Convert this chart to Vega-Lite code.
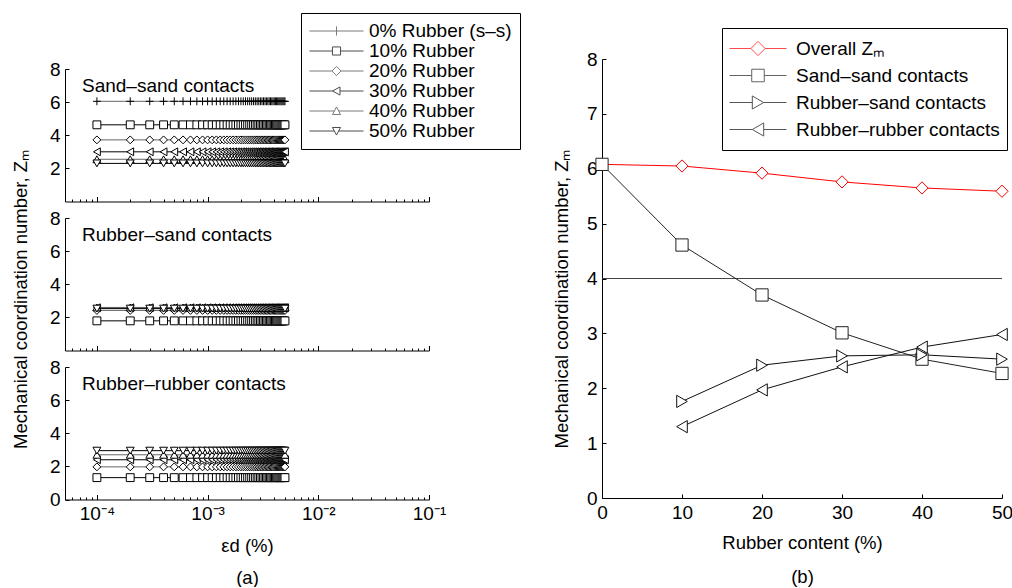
{
"$schema":"https://vega.github.io/schema/vega-lite/v6.json",
"padding":{"left":10,"top":12,"right":0,"bottom":0},
"config":{"font":"Liberation Sans","view":{"stroke":null},
"axis":{"grid":false,"domainColor":"#000","tickColor":"#000","labelColor":"#000","titleColor":"#000","labelFontSize":19,"titleFontSize":18.5,"titleFontWeight":"normal","labelFont":"Liberation Sans","titleFont":"Liberation Sans","domainWidth":1,"tickWidth":1,"labelOverlap":false,"labelFlush":false},
"legend":{"labelFont":"Liberation Sans","labelFontSize":19,"labelColor":"#000","labelLimit":400}},
"datasets":{
"ss":[
{"x":0.0001,"s":0,"y":6.05},{"x":0.0002,"s":0,"y":6.05},{"x":0.0003,"s":0,"y":6.05},{"x":0.0004,"s":0,"y":6.05},{"x":0.0005,"s":0,"y":6.05},{"x":0.0006,"s":0,"y":6.05},{"x":0.0007,"s":0,"y":6.05},{"x":0.0008,"s":0,"y":6.05},{"x":0.0009,"s":0,"y":6.05},{"x":0.001,"s":0,"y":6.05},
{"x":0.0011,"s":0,"y":6.05},{"x":0.0012,"s":0,"y":6.05},{"x":0.0013,"s":0,"y":6.05},{"x":0.0014,"s":0,"y":6.05},{"x":0.0015,"s":0,"y":6.05},{"x":0.0016,"s":0,"y":6.05},{"x":0.0017,"s":0,"y":6.05},{"x":0.0018,"s":0,"y":6.05},{"x":0.0019,"s":0,"y":6.05},{"x":0.002,"s":0,"y":6.05},
{"x":0.0021,"s":0,"y":6.05},{"x":0.0022,"s":0,"y":6.05},{"x":0.0023,"s":0,"y":6.05},{"x":0.0024,"s":0,"y":6.05},{"x":0.0025,"s":0,"y":6.05},{"x":0.0026,"s":0,"y":6.05},{"x":0.0027,"s":0,"y":6.05},{"x":0.0028,"s":0,"y":6.05},{"x":0.0029,"s":0,"y":6.05},{"x":0.003,"s":0,"y":6.05},
{"x":0.0031,"s":0,"y":6.05},{"x":0.0032,"s":0,"y":6.05},{"x":0.0033,"s":0,"y":6.05},{"x":0.0034,"s":0,"y":6.05},{"x":0.0035,"s":0,"y":6.05},{"x":0.0036,"s":0,"y":6.05},{"x":0.0037,"s":0,"y":6.05},{"x":0.0038,"s":0,"y":6.05},{"x":0.0039,"s":0,"y":6.05},{"x":0.004,"s":0,"y":6.05},
{"x":0.0041,"s":0,"y":6.05},{"x":0.0042,"s":0,"y":6.05},{"x":0.0043,"s":0,"y":6.05},{"x":0.0044,"s":0,"y":6.05},{"x":0.0045,"s":0,"y":6.05},{"x":0.0046,"s":0,"y":6.05},{"x":0.0047,"s":0,"y":6.05},{"x":0.0048,"s":0,"y":6.05},{"x":0.0049,"s":0,"y":6.05},{"x":0.005,"s":0,"y":6.05},
{"x":0.0001,"s":10,"y":4.63},{"x":0.0002,"s":10,"y":4.63},{"x":0.0003,"s":10,"y":4.63},{"x":0.0004,"s":10,"y":4.63},{"x":0.0005,"s":10,"y":4.63},{"x":0.0006,"s":10,"y":4.63},{"x":0.0007,"s":10,"y":4.63},{"x":0.0008,"s":10,"y":4.63},{"x":0.0009,"s":10,"y":4.63},{"x":0.001,"s":10,"y":4.63},
{"x":0.0011,"s":10,"y":4.63},{"x":0.0012,"s":10,"y":4.63},{"x":0.0013,"s":10,"y":4.63},{"x":0.0014,"s":10,"y":4.63},{"x":0.0015,"s":10,"y":4.63},{"x":0.0016,"s":10,"y":4.63},{"x":0.0017,"s":10,"y":4.63},{"x":0.0018,"s":10,"y":4.63},{"x":0.0019,"s":10,"y":4.63},{"x":0.002,"s":10,"y":4.63},
{"x":0.0021,"s":10,"y":4.63},{"x":0.0022,"s":10,"y":4.63},{"x":0.0023,"s":10,"y":4.63},{"x":0.0024,"s":10,"y":4.63},{"x":0.0025,"s":10,"y":4.63},{"x":0.0026,"s":10,"y":4.63},{"x":0.0027,"s":10,"y":4.63},{"x":0.0028,"s":10,"y":4.63},{"x":0.0029,"s":10,"y":4.63},{"x":0.003,"s":10,"y":4.63},
{"x":0.0031,"s":10,"y":4.63},{"x":0.0032,"s":10,"y":4.63},{"x":0.0033,"s":10,"y":4.63},{"x":0.0034,"s":10,"y":4.63},{"x":0.0035,"s":10,"y":4.63},{"x":0.0036,"s":10,"y":4.63},{"x":0.0037,"s":10,"y":4.63},{"x":0.0038,"s":10,"y":4.63},{"x":0.0039,"s":10,"y":4.63},{"x":0.004,"s":10,"y":4.63},
{"x":0.0041,"s":10,"y":4.63},{"x":0.0042,"s":10,"y":4.63},{"x":0.0043,"s":10,"y":4.63},{"x":0.0044,"s":10,"y":4.63},{"x":0.0045,"s":10,"y":4.63},{"x":0.0046,"s":10,"y":4.63},{"x":0.0047,"s":10,"y":4.63},{"x":0.0048,"s":10,"y":4.63},{"x":0.0049,"s":10,"y":4.63},{"x":0.005,"s":10,"y":4.63},
{"x":0.0001,"s":20,"y":3.72},{"x":0.0002,"s":20,"y":3.72},{"x":0.0003,"s":20,"y":3.72},{"x":0.0004,"s":20,"y":3.72},{"x":0.0005,"s":20,"y":3.72},{"x":0.0006,"s":20,"y":3.72},{"x":0.0007,"s":20,"y":3.72},{"x":0.0008,"s":20,"y":3.72},{"x":0.0009,"s":20,"y":3.72},{"x":0.001,"s":20,"y":3.72},
{"x":0.0011,"s":20,"y":3.72},{"x":0.0012,"s":20,"y":3.72},{"x":0.0013,"s":20,"y":3.72},{"x":0.0014,"s":20,"y":3.72},{"x":0.0015,"s":20,"y":3.72},{"x":0.0016,"s":20,"y":3.72},{"x":0.0017,"s":20,"y":3.72},{"x":0.0018,"s":20,"y":3.72},{"x":0.0019,"s":20,"y":3.72},{"x":0.002,"s":20,"y":3.72},
{"x":0.0021,"s":20,"y":3.72},{"x":0.0022,"s":20,"y":3.72},{"x":0.0023,"s":20,"y":3.72},{"x":0.0024,"s":20,"y":3.72},{"x":0.0025,"s":20,"y":3.72},{"x":0.0026,"s":20,"y":3.72},{"x":0.0027,"s":20,"y":3.72},{"x":0.0028,"s":20,"y":3.72},{"x":0.0029,"s":20,"y":3.72},{"x":0.003,"s":20,"y":3.72},
{"x":0.0031,"s":20,"y":3.72},{"x":0.0032,"s":20,"y":3.72},{"x":0.0033,"s":20,"y":3.72},{"x":0.0034,"s":20,"y":3.72},{"x":0.0035,"s":20,"y":3.72},{"x":0.0036,"s":20,"y":3.72},{"x":0.0037,"s":20,"y":3.72},{"x":0.0038,"s":20,"y":3.72},{"x":0.0039,"s":20,"y":3.72},{"x":0.004,"s":20,"y":3.72},
{"x":0.0041,"s":20,"y":3.72},{"x":0.0042,"s":20,"y":3.72},{"x":0.0043,"s":20,"y":3.72},{"x":0.0044,"s":20,"y":3.72},{"x":0.0045,"s":20,"y":3.72},{"x":0.0046,"s":20,"y":3.72},{"x":0.0047,"s":20,"y":3.72},{"x":0.0048,"s":20,"y":3.72},{"x":0.0049,"s":20,"y":3.72},{"x":0.005,"s":20,"y":3.72},
{"x":0.0001,"s":30,"y":3.0},{"x":0.0002,"s":30,"y":3.0},{"x":0.0003,"s":30,"y":3.0},{"x":0.0004,"s":30,"y":3.0},{"x":0.0005,"s":30,"y":3.0},{"x":0.0006,"s":30,"y":3.0},{"x":0.0007,"s":30,"y":3.0},{"x":0.0008,"s":30,"y":3.0},{"x":0.0009,"s":30,"y":3.0},{"x":0.001,"s":30,"y":3.0},
{"x":0.0011,"s":30,"y":3.0},{"x":0.0012,"s":30,"y":3.0},{"x":0.0013,"s":30,"y":3.0},{"x":0.0014,"s":30,"y":3.0},{"x":0.0015,"s":30,"y":3.0},{"x":0.0016,"s":30,"y":3.0},{"x":0.0017,"s":30,"y":3.0},{"x":0.0018,"s":30,"y":3.0},{"x":0.0019,"s":30,"y":3.0},{"x":0.002,"s":30,"y":3.0},
{"x":0.0021,"s":30,"y":3.0},{"x":0.0022,"s":30,"y":3.0},{"x":0.0023,"s":30,"y":3.0},{"x":0.0024,"s":30,"y":3.0},{"x":0.0025,"s":30,"y":3.0},{"x":0.0026,"s":30,"y":3.0},{"x":0.0027,"s":30,"y":3.0},{"x":0.0028,"s":30,"y":3.0},{"x":0.0029,"s":30,"y":3.0},{"x":0.003,"s":30,"y":3.0},
{"x":0.0031,"s":30,"y":3.0},{"x":0.0032,"s":30,"y":3.0},{"x":0.0033,"s":30,"y":3.0},{"x":0.0034,"s":30,"y":3.0},{"x":0.0035,"s":30,"y":3.0},{"x":0.0036,"s":30,"y":3.0},{"x":0.0037,"s":30,"y":3.0},{"x":0.0038,"s":30,"y":3.0},{"x":0.0039,"s":30,"y":3.0},{"x":0.004,"s":30,"y":3.0},
{"x":0.0041,"s":30,"y":3.0},{"x":0.0042,"s":30,"y":3.0},{"x":0.0043,"s":30,"y":3.0},{"x":0.0044,"s":30,"y":3.0},{"x":0.0045,"s":30,"y":3.0},{"x":0.0046,"s":30,"y":3.0},{"x":0.0047,"s":30,"y":3.0},{"x":0.0048,"s":30,"y":3.0},{"x":0.0049,"s":30,"y":3.0},{"x":0.005,"s":30,"y":3.0},
{"x":0.0001,"s":40,"y":2.55},{"x":0.0002,"s":40,"y":2.55},{"x":0.0003,"s":40,"y":2.55},{"x":0.0004,"s":40,"y":2.55},{"x":0.0005,"s":40,"y":2.55},{"x":0.0006,"s":40,"y":2.55},{"x":0.0007,"s":40,"y":2.55},{"x":0.0008,"s":40,"y":2.55},{"x":0.0009,"s":40,"y":2.55},{"x":0.001,"s":40,"y":2.55},
{"x":0.0011,"s":40,"y":2.55},{"x":0.0012,"s":40,"y":2.55},{"x":0.0013,"s":40,"y":2.55},{"x":0.0014,"s":40,"y":2.55},{"x":0.0015,"s":40,"y":2.55},{"x":0.0016,"s":40,"y":2.55},{"x":0.0017,"s":40,"y":2.55},{"x":0.0018,"s":40,"y":2.55},{"x":0.0019,"s":40,"y":2.55},{"x":0.002,"s":40,"y":2.55},
{"x":0.0021,"s":40,"y":2.55},{"x":0.0022,"s":40,"y":2.55},{"x":0.0023,"s":40,"y":2.55},{"x":0.0024,"s":40,"y":2.55},{"x":0.0025,"s":40,"y":2.55},{"x":0.0026,"s":40,"y":2.55},{"x":0.0027,"s":40,"y":2.55},{"x":0.0028,"s":40,"y":2.55},{"x":0.0029,"s":40,"y":2.55},{"x":0.003,"s":40,"y":2.55},
{"x":0.0031,"s":40,"y":2.55},{"x":0.0032,"s":40,"y":2.55},{"x":0.0033,"s":40,"y":2.55},{"x":0.0034,"s":40,"y":2.55},{"x":0.0035,"s":40,"y":2.55},{"x":0.0036,"s":40,"y":2.55},{"x":0.0037,"s":40,"y":2.55},{"x":0.0038,"s":40,"y":2.55},{"x":0.0039,"s":40,"y":2.55},{"x":0.004,"s":40,"y":2.55},
{"x":0.0041,"s":40,"y":2.55},{"x":0.0042,"s":40,"y":2.55},{"x":0.0043,"s":40,"y":2.55},{"x":0.0044,"s":40,"y":2.55},{"x":0.0045,"s":40,"y":2.55},{"x":0.0046,"s":40,"y":2.55},{"x":0.0047,"s":40,"y":2.55},{"x":0.0048,"s":40,"y":2.55},{"x":0.0049,"s":40,"y":2.55},{"x":0.005,"s":40,"y":2.55},
{"x":0.0001,"s":50,"y":2.3},{"x":0.0002,"s":50,"y":2.3},{"x":0.0003,"s":50,"y":2.3},{"x":0.0004,"s":50,"y":2.3},{"x":0.0005,"s":50,"y":2.3},{"x":0.0006,"s":50,"y":2.3},{"x":0.0007,"s":50,"y":2.3},{"x":0.0008,"s":50,"y":2.3},{"x":0.0009,"s":50,"y":2.3},{"x":0.001,"s":50,"y":2.3},
{"x":0.0011,"s":50,"y":2.3},{"x":0.0012,"s":50,"y":2.3},{"x":0.0013,"s":50,"y":2.3},{"x":0.0014,"s":50,"y":2.3},{"x":0.0015,"s":50,"y":2.3},{"x":0.0016,"s":50,"y":2.3},{"x":0.0017,"s":50,"y":2.3},{"x":0.0018,"s":50,"y":2.3},{"x":0.0019,"s":50,"y":2.3},{"x":0.002,"s":50,"y":2.3},
{"x":0.0021,"s":50,"y":2.3},{"x":0.0022,"s":50,"y":2.3},{"x":0.0023,"s":50,"y":2.3},{"x":0.0024,"s":50,"y":2.3},{"x":0.0025,"s":50,"y":2.3},{"x":0.0026,"s":50,"y":2.3},{"x":0.0027,"s":50,"y":2.3},{"x":0.0028,"s":50,"y":2.3},{"x":0.0029,"s":50,"y":2.3},{"x":0.003,"s":50,"y":2.3},
{"x":0.0031,"s":50,"y":2.3},{"x":0.0032,"s":50,"y":2.3},{"x":0.0033,"s":50,"y":2.3},{"x":0.0034,"s":50,"y":2.3},{"x":0.0035,"s":50,"y":2.3},{"x":0.0036,"s":50,"y":2.3},{"x":0.0037,"s":50,"y":2.3},{"x":0.0038,"s":50,"y":2.3},{"x":0.0039,"s":50,"y":2.3},{"x":0.004,"s":50,"y":2.3},
{"x":0.0041,"s":50,"y":2.3},{"x":0.0042,"s":50,"y":2.3},{"x":0.0043,"s":50,"y":2.3},{"x":0.0044,"s":50,"y":2.3},{"x":0.0045,"s":50,"y":2.3},{"x":0.0046,"s":50,"y":2.3},{"x":0.0047,"s":50,"y":2.3},{"x":0.0048,"s":50,"y":2.3},{"x":0.0049,"s":50,"y":2.3},{"x":0.005,"s":50,"y":2.3}
],
"rs":[
{"x":0.0001,"s":10,"y":1.79},{"x":0.0002,"s":10,"y":1.79},{"x":0.0003,"s":10,"y":1.79},{"x":0.0004,"s":10,"y":1.79},{"x":0.0005,"s":10,"y":1.79},{"x":0.0006,"s":10,"y":1.79},{"x":0.0007,"s":10,"y":1.79},{"x":0.0008,"s":10,"y":1.79},{"x":0.0009,"s":10,"y":1.79},{"x":0.001,"s":10,"y":1.79},
{"x":0.0011,"s":10,"y":1.79},{"x":0.0012,"s":10,"y":1.79},{"x":0.0013,"s":10,"y":1.79},{"x":0.0014,"s":10,"y":1.79},{"x":0.0015,"s":10,"y":1.79},{"x":0.0016,"s":10,"y":1.79},{"x":0.0017,"s":10,"y":1.79},{"x":0.0018,"s":10,"y":1.79},{"x":0.0019,"s":10,"y":1.79},{"x":0.002,"s":10,"y":1.79},
{"x":0.0021,"s":10,"y":1.79},{"x":0.0022,"s":10,"y":1.79},{"x":0.0023,"s":10,"y":1.79},{"x":0.0024,"s":10,"y":1.79},{"x":0.0025,"s":10,"y":1.79},{"x":0.0026,"s":10,"y":1.79},{"x":0.0027,"s":10,"y":1.79},{"x":0.0028,"s":10,"y":1.79},{"x":0.0029,"s":10,"y":1.79},{"x":0.003,"s":10,"y":1.79},
{"x":0.0031,"s":10,"y":1.79},{"x":0.0032,"s":10,"y":1.79},{"x":0.0033,"s":10,"y":1.79},{"x":0.0034,"s":10,"y":1.79},{"x":0.0035,"s":10,"y":1.79},{"x":0.0036,"s":10,"y":1.79},{"x":0.0037,"s":10,"y":1.79},{"x":0.0038,"s":10,"y":1.79},{"x":0.0039,"s":10,"y":1.79},{"x":0.004,"s":10,"y":1.79},
{"x":0.0041,"s":10,"y":1.79},{"x":0.0042,"s":10,"y":1.79},{"x":0.0043,"s":10,"y":1.79},{"x":0.0044,"s":10,"y":1.79},{"x":0.0045,"s":10,"y":1.79},{"x":0.0046,"s":10,"y":1.79},{"x":0.0047,"s":10,"y":1.79},{"x":0.0048,"s":10,"y":1.79},{"x":0.0049,"s":10,"y":1.79},{"x":0.005,"s":10,"y":1.79},
{"x":0.0001,"s":20,"y":2.42},{"x":0.0002,"s":20,"y":2.42},{"x":0.0003,"s":20,"y":2.42},{"x":0.0004,"s":20,"y":2.42},{"x":0.0005,"s":20,"y":2.42},{"x":0.0006,"s":20,"y":2.42},{"x":0.0007,"s":20,"y":2.42},{"x":0.0008,"s":20,"y":2.42},{"x":0.0009,"s":20,"y":2.42},{"x":0.001,"s":20,"y":2.42},
{"x":0.0011,"s":20,"y":2.42},{"x":0.0012,"s":20,"y":2.42},{"x":0.0013,"s":20,"y":2.42},{"x":0.0014,"s":20,"y":2.42},{"x":0.0015,"s":20,"y":2.42},{"x":0.0016,"s":20,"y":2.42},{"x":0.0017,"s":20,"y":2.42},{"x":0.0018,"s":20,"y":2.42},{"x":0.0019,"s":20,"y":2.42},{"x":0.002,"s":20,"y":2.42},
{"x":0.0021,"s":20,"y":2.42},{"x":0.0022,"s":20,"y":2.42},{"x":0.0023,"s":20,"y":2.42},{"x":0.0024,"s":20,"y":2.42},{"x":0.0025,"s":20,"y":2.42},{"x":0.0026,"s":20,"y":2.42},{"x":0.0027,"s":20,"y":2.42},{"x":0.0028,"s":20,"y":2.42},{"x":0.0029,"s":20,"y":2.42},{"x":0.003,"s":20,"y":2.42},
{"x":0.0031,"s":20,"y":2.42},{"x":0.0032,"s":20,"y":2.42},{"x":0.0033,"s":20,"y":2.42},{"x":0.0034,"s":20,"y":2.42},{"x":0.0035,"s":20,"y":2.42},{"x":0.0036,"s":20,"y":2.42},{"x":0.0037,"s":20,"y":2.42},{"x":0.0038,"s":20,"y":2.42},{"x":0.0039,"s":20,"y":2.42},{"x":0.004,"s":20,"y":2.42},
{"x":0.0041,"s":20,"y":2.42},{"x":0.0042,"s":20,"y":2.42},{"x":0.0043,"s":20,"y":2.42},{"x":0.0044,"s":20,"y":2.42},{"x":0.0045,"s":20,"y":2.42},{"x":0.0046,"s":20,"y":2.42},{"x":0.0047,"s":20,"y":2.42},{"x":0.0048,"s":20,"y":2.42},{"x":0.0049,"s":20,"y":2.42},{"x":0.005,"s":20,"y":2.42},
{"x":0.0001,"s":30,"y":2.58},{"x":0.0002,"s":30,"y":2.58},{"x":0.0003,"s":30,"y":2.58},{"x":0.0004,"s":30,"y":2.58},{"x":0.0005,"s":30,"y":2.58},{"x":0.0006,"s":30,"y":2.58},{"x":0.0007,"s":30,"y":2.58},{"x":0.0008,"s":30,"y":2.58},{"x":0.0009,"s":30,"y":2.58},{"x":0.001,"s":30,"y":2.58},
{"x":0.0011,"s":30,"y":2.58},{"x":0.0012,"s":30,"y":2.58},{"x":0.0013,"s":30,"y":2.58},{"x":0.0014,"s":30,"y":2.58},{"x":0.0015,"s":30,"y":2.58},{"x":0.0016,"s":30,"y":2.58},{"x":0.0017,"s":30,"y":2.58},{"x":0.0018,"s":30,"y":2.58},{"x":0.0019,"s":30,"y":2.58},{"x":0.002,"s":30,"y":2.58},
{"x":0.0021,"s":30,"y":2.58},{"x":0.0022,"s":30,"y":2.58},{"x":0.0023,"s":30,"y":2.58},{"x":0.0024,"s":30,"y":2.58},{"x":0.0025,"s":30,"y":2.58},{"x":0.0026,"s":30,"y":2.58},{"x":0.0027,"s":30,"y":2.58},{"x":0.0028,"s":30,"y":2.58},{"x":0.0029,"s":30,"y":2.58},{"x":0.003,"s":30,"y":2.58},
{"x":0.0031,"s":30,"y":2.58},{"x":0.0032,"s":30,"y":2.58},{"x":0.0033,"s":30,"y":2.58},{"x":0.0034,"s":30,"y":2.58},{"x":0.0035,"s":30,"y":2.58},{"x":0.0036,"s":30,"y":2.58},{"x":0.0037,"s":30,"y":2.58},{"x":0.0038,"s":30,"y":2.58},{"x":0.0039,"s":30,"y":2.58},{"x":0.004,"s":30,"y":2.58},
{"x":0.0041,"s":30,"y":2.58},{"x":0.0042,"s":30,"y":2.58},{"x":0.0043,"s":30,"y":2.58},{"x":0.0044,"s":30,"y":2.58},{"x":0.0045,"s":30,"y":2.58},{"x":0.0046,"s":30,"y":2.58},{"x":0.0047,"s":30,"y":2.58},{"x":0.0048,"s":30,"y":2.58},{"x":0.0049,"s":30,"y":2.58},{"x":0.005,"s":30,"y":2.58},
{"x":0.0001,"s":40,"y":2.6},{"x":0.0002,"s":40,"y":2.6},{"x":0.0003,"s":40,"y":2.6},{"x":0.0004,"s":40,"y":2.6},{"x":0.0005,"s":40,"y":2.6},{"x":0.0006,"s":40,"y":2.6},{"x":0.0007,"s":40,"y":2.6},{"x":0.0008,"s":40,"y":2.6},{"x":0.0009,"s":40,"y":2.6},{"x":0.001,"s":40,"y":2.6},
{"x":0.0011,"s":40,"y":2.6},{"x":0.0012,"s":40,"y":2.6},{"x":0.0013,"s":40,"y":2.6},{"x":0.0014,"s":40,"y":2.6},{"x":0.0015,"s":40,"y":2.6},{"x":0.0016,"s":40,"y":2.6},{"x":0.0017,"s":40,"y":2.6},{"x":0.0018,"s":40,"y":2.6},{"x":0.0019,"s":40,"y":2.6},{"x":0.002,"s":40,"y":2.6},
{"x":0.0021,"s":40,"y":2.6},{"x":0.0022,"s":40,"y":2.6},{"x":0.0023,"s":40,"y":2.6},{"x":0.0024,"s":40,"y":2.6},{"x":0.0025,"s":40,"y":2.6},{"x":0.0026,"s":40,"y":2.6},{"x":0.0027,"s":40,"y":2.6},{"x":0.0028,"s":40,"y":2.6},{"x":0.0029,"s":40,"y":2.6},{"x":0.003,"s":40,"y":2.6},
{"x":0.0031,"s":40,"y":2.6},{"x":0.0032,"s":40,"y":2.6},{"x":0.0033,"s":40,"y":2.6},{"x":0.0034,"s":40,"y":2.6},{"x":0.0035,"s":40,"y":2.6},{"x":0.0036,"s":40,"y":2.6},{"x":0.0037,"s":40,"y":2.6},{"x":0.0038,"s":40,"y":2.6},{"x":0.0039,"s":40,"y":2.6},{"x":0.004,"s":40,"y":2.6},
{"x":0.0041,"s":40,"y":2.6},{"x":0.0042,"s":40,"y":2.6},{"x":0.0043,"s":40,"y":2.6},{"x":0.0044,"s":40,"y":2.6},{"x":0.0045,"s":40,"y":2.6},{"x":0.0046,"s":40,"y":2.6},{"x":0.0047,"s":40,"y":2.6},{"x":0.0048,"s":40,"y":2.6},{"x":0.0049,"s":40,"y":2.6},{"x":0.005,"s":40,"y":2.6},
{"x":0.0001,"s":50,"y":2.53},{"x":0.0002,"s":50,"y":2.53},{"x":0.0003,"s":50,"y":2.53},{"x":0.0004,"s":50,"y":2.53},{"x":0.0005,"s":50,"y":2.53},{"x":0.0006,"s":50,"y":2.53},{"x":0.0007,"s":50,"y":2.53},{"x":0.0008,"s":50,"y":2.53},{"x":0.0009,"s":50,"y":2.53},{"x":0.001,"s":50,"y":2.53},
{"x":0.0011,"s":50,"y":2.53},{"x":0.0012,"s":50,"y":2.53},{"x":0.0013,"s":50,"y":2.53},{"x":0.0014,"s":50,"y":2.53},{"x":0.0015,"s":50,"y":2.53},{"x":0.0016,"s":50,"y":2.53},{"x":0.0017,"s":50,"y":2.53},{"x":0.0018,"s":50,"y":2.53},{"x":0.0019,"s":50,"y":2.53},{"x":0.002,"s":50,"y":2.53},
{"x":0.0021,"s":50,"y":2.53},{"x":0.0022,"s":50,"y":2.53},{"x":0.0023,"s":50,"y":2.53},{"x":0.0024,"s":50,"y":2.53},{"x":0.0025,"s":50,"y":2.53},{"x":0.0026,"s":50,"y":2.53},{"x":0.0027,"s":50,"y":2.53},{"x":0.0028,"s":50,"y":2.53},{"x":0.0029,"s":50,"y":2.53},{"x":0.003,"s":50,"y":2.53},
{"x":0.0031,"s":50,"y":2.53},{"x":0.0032,"s":50,"y":2.53},{"x":0.0033,"s":50,"y":2.53},{"x":0.0034,"s":50,"y":2.53},{"x":0.0035,"s":50,"y":2.53},{"x":0.0036,"s":50,"y":2.53},{"x":0.0037,"s":50,"y":2.53},{"x":0.0038,"s":50,"y":2.53},{"x":0.0039,"s":50,"y":2.53},{"x":0.004,"s":50,"y":2.53},
{"x":0.0041,"s":50,"y":2.53},{"x":0.0042,"s":50,"y":2.53},{"x":0.0043,"s":50,"y":2.53},{"x":0.0044,"s":50,"y":2.53},{"x":0.0045,"s":50,"y":2.53},{"x":0.0046,"s":50,"y":2.53},{"x":0.0047,"s":50,"y":2.53},{"x":0.0048,"s":50,"y":2.53},{"x":0.0049,"s":50,"y":2.53},{"x":0.005,"s":50,"y":2.53}
],
"rr":[
{"x":0.0001,"s":10,"y":1.32},{"x":0.0002,"s":10,"y":1.32},{"x":0.0003,"s":10,"y":1.32},{"x":0.0004,"s":10,"y":1.32},{"x":0.0005,"s":10,"y":1.32},{"x":0.0006,"s":10,"y":1.32},{"x":0.0007,"s":10,"y":1.32},{"x":0.0008,"s":10,"y":1.32},{"x":0.0009,"s":10,"y":1.32},{"x":0.001,"s":10,"y":1.32},
{"x":0.0011,"s":10,"y":1.32},{"x":0.0012,"s":10,"y":1.32},{"x":0.0013,"s":10,"y":1.32},{"x":0.0014,"s":10,"y":1.32},{"x":0.0015,"s":10,"y":1.32},{"x":0.0016,"s":10,"y":1.32},{"x":0.0017,"s":10,"y":1.32},{"x":0.0018,"s":10,"y":1.32},{"x":0.0019,"s":10,"y":1.32},{"x":0.002,"s":10,"y":1.32},
{"x":0.0021,"s":10,"y":1.32},{"x":0.0022,"s":10,"y":1.32},{"x":0.0023,"s":10,"y":1.32},{"x":0.0024,"s":10,"y":1.32},{"x":0.0025,"s":10,"y":1.32},{"x":0.0026,"s":10,"y":1.32},{"x":0.0027,"s":10,"y":1.32},{"x":0.0028,"s":10,"y":1.32},{"x":0.0029,"s":10,"y":1.32},{"x":0.003,"s":10,"y":1.32},
{"x":0.0031,"s":10,"y":1.32},{"x":0.0032,"s":10,"y":1.32},{"x":0.0033,"s":10,"y":1.32},{"x":0.0034,"s":10,"y":1.32},{"x":0.0035,"s":10,"y":1.32},{"x":0.0036,"s":10,"y":1.32},{"x":0.0037,"s":10,"y":1.32},{"x":0.0038,"s":10,"y":1.32},{"x":0.0039,"s":10,"y":1.32},{"x":0.004,"s":10,"y":1.32},
{"x":0.0041,"s":10,"y":1.32},{"x":0.0042,"s":10,"y":1.32},{"x":0.0043,"s":10,"y":1.32},{"x":0.0044,"s":10,"y":1.32},{"x":0.0045,"s":10,"y":1.32},{"x":0.0046,"s":10,"y":1.32},{"x":0.0047,"s":10,"y":1.32},{"x":0.0048,"s":10,"y":1.32},{"x":0.0049,"s":10,"y":1.32},{"x":0.005,"s":10,"y":1.32},
{"x":0.0001,"s":20,"y":1.97},{"x":0.0002,"s":20,"y":1.97},{"x":0.0003,"s":20,"y":1.97},{"x":0.0004,"s":20,"y":1.97},{"x":0.0005,"s":20,"y":1.97},{"x":0.0006,"s":20,"y":1.97},{"x":0.0007,"s":20,"y":1.97},{"x":0.0008,"s":20,"y":1.97},{"x":0.0009,"s":20,"y":1.97},{"x":0.001,"s":20,"y":1.97},
{"x":0.0011,"s":20,"y":1.97},{"x":0.0012,"s":20,"y":1.97},{"x":0.0013,"s":20,"y":1.97},{"x":0.0014,"s":20,"y":1.97},{"x":0.0015,"s":20,"y":1.97},{"x":0.0016,"s":20,"y":1.97},{"x":0.0017,"s":20,"y":1.97},{"x":0.0018,"s":20,"y":1.97},{"x":0.0019,"s":20,"y":1.97},{"x":0.002,"s":20,"y":1.97},
{"x":0.0021,"s":20,"y":1.97},{"x":0.0022,"s":20,"y":1.97},{"x":0.0023,"s":20,"y":1.97},{"x":0.0024,"s":20,"y":1.97},{"x":0.0025,"s":20,"y":1.97},{"x":0.0026,"s":20,"y":1.97},{"x":0.0027,"s":20,"y":1.97},{"x":0.0028,"s":20,"y":1.97},{"x":0.0029,"s":20,"y":1.97},{"x":0.003,"s":20,"y":1.97},
{"x":0.0031,"s":20,"y":1.97},{"x":0.0032,"s":20,"y":1.97},{"x":0.0033,"s":20,"y":1.97},{"x":0.0034,"s":20,"y":1.97},{"x":0.0035,"s":20,"y":1.97},{"x":0.0036,"s":20,"y":1.97},{"x":0.0037,"s":20,"y":1.97},{"x":0.0038,"s":20,"y":1.97},{"x":0.0039,"s":20,"y":1.97},{"x":0.004,"s":20,"y":1.97},
{"x":0.0041,"s":20,"y":1.97},{"x":0.0042,"s":20,"y":1.97},{"x":0.0043,"s":20,"y":1.97},{"x":0.0044,"s":20,"y":1.97},{"x":0.0045,"s":20,"y":1.97},{"x":0.0046,"s":20,"y":1.97},{"x":0.0047,"s":20,"y":1.97},{"x":0.0048,"s":20,"y":1.97},{"x":0.0049,"s":20,"y":1.97},{"x":0.005,"s":20,"y":1.97},
{"x":0.0001,"s":30,"y":2.4},{"x":0.0002,"s":30,"y":2.4},{"x":0.0003,"s":30,"y":2.4},{"x":0.0004,"s":30,"y":2.4},{"x":0.0005,"s":30,"y":2.4},{"x":0.0006,"s":30,"y":2.4},{"x":0.0007,"s":30,"y":2.4},{"x":0.0008,"s":30,"y":2.4},{"x":0.0009,"s":30,"y":2.4},{"x":0.001,"s":30,"y":2.4},
{"x":0.0011,"s":30,"y":2.4},{"x":0.0012,"s":30,"y":2.4},{"x":0.0013,"s":30,"y":2.4},{"x":0.0014,"s":30,"y":2.4},{"x":0.0015,"s":30,"y":2.4},{"x":0.0016,"s":30,"y":2.4},{"x":0.0017,"s":30,"y":2.4},{"x":0.0018,"s":30,"y":2.4},{"x":0.0019,"s":30,"y":2.4},{"x":0.002,"s":30,"y":2.4},
{"x":0.0021,"s":30,"y":2.4},{"x":0.0022,"s":30,"y":2.4},{"x":0.0023,"s":30,"y":2.4},{"x":0.0024,"s":30,"y":2.4},{"x":0.0025,"s":30,"y":2.4},{"x":0.0026,"s":30,"y":2.4},{"x":0.0027,"s":30,"y":2.4},{"x":0.0028,"s":30,"y":2.4},{"x":0.0029,"s":30,"y":2.4},{"x":0.003,"s":30,"y":2.4},
{"x":0.0031,"s":30,"y":2.4},{"x":0.0032,"s":30,"y":2.4},{"x":0.0033,"s":30,"y":2.4},{"x":0.0034,"s":30,"y":2.4},{"x":0.0035,"s":30,"y":2.4},{"x":0.0036,"s":30,"y":2.4},{"x":0.0037,"s":30,"y":2.4},{"x":0.0038,"s":30,"y":2.4},{"x":0.0039,"s":30,"y":2.4},{"x":0.004,"s":30,"y":2.4},
{"x":0.0041,"s":30,"y":2.4},{"x":0.0042,"s":30,"y":2.4},{"x":0.0043,"s":30,"y":2.4},{"x":0.0044,"s":30,"y":2.4},{"x":0.0045,"s":30,"y":2.4},{"x":0.0046,"s":30,"y":2.4},{"x":0.0047,"s":30,"y":2.4},{"x":0.0048,"s":30,"y":2.4},{"x":0.0049,"s":30,"y":2.4},{"x":0.005,"s":30,"y":2.4},
{"x":0.0001,"s":40,"y":2.7},{"x":0.0002,"s":40,"y":2.7},{"x":0.0003,"s":40,"y":2.7},{"x":0.0004,"s":40,"y":2.7},{"x":0.0005,"s":40,"y":2.7},{"x":0.0006,"s":40,"y":2.7},{"x":0.0007,"s":40,"y":2.7},{"x":0.0008,"s":40,"y":2.7},{"x":0.0009,"s":40,"y":2.7},{"x":0.001,"s":40,"y":2.7},
{"x":0.0011,"s":40,"y":2.7},{"x":0.0012,"s":40,"y":2.7},{"x":0.0013,"s":40,"y":2.7},{"x":0.0014,"s":40,"y":2.7},{"x":0.0015,"s":40,"y":2.7},{"x":0.0016,"s":40,"y":2.7},{"x":0.0017,"s":40,"y":2.7},{"x":0.0018,"s":40,"y":2.7},{"x":0.0019,"s":40,"y":2.7},{"x":0.002,"s":40,"y":2.7},
{"x":0.0021,"s":40,"y":2.7},{"x":0.0022,"s":40,"y":2.7},{"x":0.0023,"s":40,"y":2.7},{"x":0.0024,"s":40,"y":2.7},{"x":0.0025,"s":40,"y":2.7},{"x":0.0026,"s":40,"y":2.7},{"x":0.0027,"s":40,"y":2.7},{"x":0.0028,"s":40,"y":2.7},{"x":0.0029,"s":40,"y":2.7},{"x":0.003,"s":40,"y":2.7},
{"x":0.0031,"s":40,"y":2.7},{"x":0.0032,"s":40,"y":2.7},{"x":0.0033,"s":40,"y":2.7},{"x":0.0034,"s":40,"y":2.7},{"x":0.0035,"s":40,"y":2.7},{"x":0.0036,"s":40,"y":2.7},{"x":0.0037,"s":40,"y":2.7},{"x":0.0038,"s":40,"y":2.7},{"x":0.0039,"s":40,"y":2.7},{"x":0.004,"s":40,"y":2.7},
{"x":0.0041,"s":40,"y":2.7},{"x":0.0042,"s":40,"y":2.7},{"x":0.0043,"s":40,"y":2.7},{"x":0.0044,"s":40,"y":2.7},{"x":0.0045,"s":40,"y":2.7},{"x":0.0046,"s":40,"y":2.7},{"x":0.0047,"s":40,"y":2.7},{"x":0.0048,"s":40,"y":2.7},{"x":0.0049,"s":40,"y":2.7},{"x":0.005,"s":40,"y":2.7},
{"x":0.0001,"s":50,"y":2.95},{"x":0.0002,"s":50,"y":2.95},{"x":0.0003,"s":50,"y":2.95},{"x":0.0004,"s":50,"y":2.95},{"x":0.0005,"s":50,"y":2.95},{"x":0.0006,"s":50,"y":2.95},{"x":0.0007,"s":50,"y":2.95},{"x":0.0008,"s":50,"y":2.95},{"x":0.0009,"s":50,"y":2.95},{"x":0.001,"s":50,"y":2.95},
{"x":0.0011,"s":50,"y":2.95},{"x":0.0012,"s":50,"y":2.95},{"x":0.0013,"s":50,"y":2.95},{"x":0.0014,"s":50,"y":2.95},{"x":0.0015,"s":50,"y":2.95},{"x":0.0016,"s":50,"y":2.95},{"x":0.0017,"s":50,"y":2.95},{"x":0.0018,"s":50,"y":2.95},{"x":0.0019,"s":50,"y":2.95},{"x":0.002,"s":50,"y":2.95},
{"x":0.0021,"s":50,"y":2.95},{"x":0.0022,"s":50,"y":2.95},{"x":0.0023,"s":50,"y":2.95},{"x":0.0024,"s":50,"y":2.95},{"x":0.0025,"s":50,"y":2.95},{"x":0.0026,"s":50,"y":2.95},{"x":0.0027,"s":50,"y":2.95},{"x":0.0028,"s":50,"y":2.95},{"x":0.0029,"s":50,"y":2.95},{"x":0.003,"s":50,"y":2.95},
{"x":0.0031,"s":50,"y":2.95},{"x":0.0032,"s":50,"y":2.95},{"x":0.0033,"s":50,"y":2.95},{"x":0.0034,"s":50,"y":2.95},{"x":0.0035,"s":50,"y":2.95},{"x":0.0036,"s":50,"y":2.95},{"x":0.0037,"s":50,"y":2.95},{"x":0.0038,"s":50,"y":2.95},{"x":0.0039,"s":50,"y":2.95},{"x":0.004,"s":50,"y":2.95},
{"x":0.0041,"s":50,"y":2.95},{"x":0.0042,"s":50,"y":2.95},{"x":0.0043,"s":50,"y":2.95},{"x":0.0044,"s":50,"y":2.95},{"x":0.0045,"s":50,"y":2.95},{"x":0.0046,"s":50,"y":2.95},{"x":0.0047,"s":50,"y":2.95},{"x":0.0048,"s":50,"y":2.95},{"x":0.0049,"s":50,"y":2.95},{"x":0.005,"s":50,"y":2.95}
],
"b":[
{"c":0,"t":"o","y":6.08},{"c":10,"t":"o","y":6.05},{"c":20,"t":"o","y":5.92},{"c":30,"t":"o","y":5.76},{"c":40,"t":"o","y":5.65},{"c":50,"t":"o","y":5.59},
{"c":0,"t":"ss","y":6.08},{"c":10,"t":"ss","y":4.61},{"c":20,"t":"ss","y":3.7},{"c":30,"t":"ss","y":3.01},{"c":40,"t":"ss","y":2.53},{"c":50,"t":"ss","y":2.27},
{"c":10,"t":"rs","y":1.76},{"c":20,"t":"rs","y":2.42},{"c":30,"t":"rs","y":2.59},{"c":40,"t":"rs","y":2.61},{"c":50,"t":"rs","y":2.53},
{"c":10,"t":"rr","y":1.3},{"c":20,"t":"rr","y":1.97},{"c":30,"t":"rr","y":2.39},{"c":40,"t":"rr","y":2.75},{"c":50,"t":"rr","y":2.98}
]
},
"bounds":"full",
"spacing":30,
"resolve":{"scale":{"shape":"independent","color":"independent"}},
"hconcat":[
{
"bounds":"flush",
"spacing":0,
"resolve":{"scale":{"shape":"independent","color":"independent"}},
"vconcat":[
{"width":364,"height":10,"data":{"values":[]},"mark":{"type":"point"}},
{
"bounds":"flush",
"spacing":16,
"resolve":{"scale":{"shape":"independent","color":"independent"}},
"vconcat":[
{
"width":364,"height":132.5,
"resolve":{"scale":{"shape":"independent","color":"independent"},"axis":{"x":"independent"}},
"layer":[
{"data":{"name":"ss"},"mark":{"type":"line","strokeWidth":1},
"encoding":{
"x":{"field":"x","type":"quantitative","scale":{"type":"log","domain":[0.0000515,0.1],"nice":false},"axis":{"orient":"bottom","values":[0.0001,0.001,0.01,0.1],"tickSize":-5,"labels":false,"title":null}},
"y":{"field":"y","type":"quantitative","scale":{"domain":[0,8],"nice":false},"axis":{"values":[2,4,6,8],"tickSize":-4,"labelPadding":9,"labelOverlap":false,"title":null}},
"color":{"field":"s","type":"nominal","scale":{"domain":[0,10,20,30,40,50],"range":["#666","#000","#666","#000","#666","#000"]},"legend":null}}},
{"data":{"name":"ss"},"mark":{"type":"point","filled":false,"fill":"#fff","fillOpacity":1,"opacity":1,"size":62,"strokeWidth":1,"stroke":"#000"},
"encoding":{
"x":{"field":"x","type":"quantitative","axis":{"orient":"bottom","values":[0.00006,0.00007,0.00008,0.00009,0.0002,0.0003,0.0004,0.0005,0.0006,0.0007,0.0008,0.0009,0.002,0.003,0.004,0.005,0.006,0.007,0.008,0.009,0.02,0.03,0.04,0.05,0.06,0.07,0.08,0.09],"tickSize":-2.5,"labels":false,"domain":false,"title":null}},
"y":{"field":"y","type":"quantitative"},
"shape":{"field":"s","type":"nominal","scale":{"domain":[0,10,20,30,40,50],"range":["M-1,0H1M0,-1V1","square","diamond","triangle-left","triangle-up","triangle-down"]},"legend":null}}},
{"data":{"name":"ss"},"transform":[{"filter":"false"}],"mark":{"type":"point","filled":false,"strokeWidth":1},
"encoding":{
"x":{"field":"x","type":"quantitative","axis":null},
"y":{"field":"y","type":"quantitative"},
"shape":{"field":"s","type":"nominal","scale":{"domain":[0,10,20,30,40,50],"range":["M-1,0H1M0,-0.17V0.17","M-1,0H-0.15M0.15,0H1M-0.15,-0.15H0.15V0.15H-0.15Z","M-1,0H-0.17M0.17,0H1M-0.17,0L0,-0.17L0.17,0L0,0.17Z","M-1,0H-0.15M0.13,0H1M-0.15,0L0.13,-0.15L0.13,0.15Z","M-1,0H-0.08M0.08,0H1M0,-0.15L0.15,0.13L-0.15,0.13Z","M-1,0H-0.08M0.08,0H1M0,0.15L0.15,-0.13L-0.15,-0.13Z"]},
"legend":{"orient":"none","legendX":236,"legendY":-56,"title":null,"strokeColor":"#000","fillColor":"#fff","padding":8,"symbolSize":2916,"clipHeight":20,"rowPadding":0,"labelFontSize":19,"labelOffset":5,"symbolOffset":0,"symbolStrokeWidth":1,"labelExpr":"datum.value == 0 ? '0% Rubber (s–s)' : datum.value + '% Rubber'"}},
"color":{"field":"s","type":"nominal","scale":{"domain":[0,10,20,30,40,50],"range":["#444","#000","#444","#000","#444","#000"]},
"legend":{"orient":"none","legendX":236,"legendY":-56,"title":null,"strokeColor":"#000","fillColor":"#fff","padding":8,"symbolSize":2916,"clipHeight":20,"rowPadding":0,"labelFontSize":19,"labelOffset":5,"symbolOffset":0,"symbolStrokeWidth":1,"labelExpr":"datum.value == 0 ? '0% Rubber (s–s)' : datum.value + '% Rubber'"}}}},
{"data":{"values":[{"x":0.0000733,"y":7.0,"t":"Sand–sand contacts"}]},"mark":{"type":"text","align":"left","baseline":"middle","fontSize":19,"font":"Liberation Sans","color":"#000"},
"encoding":{"x":{"field":"x","type":"quantitative","axis":null},"y":{"field":"y","type":"quantitative"},"text":{"field":"t"}}}
]
},
{
"width":364,"height":132.5,
"resolve":{"scale":{"shape":"independent","color":"independent"},"axis":{"x":"independent"}},
"layer":[
{"data":{"name":"rs"},"mark":{"type":"line","strokeWidth":1},
"encoding":{
"x":{"field":"x","type":"quantitative","scale":{"type":"log","domain":[0.0000515,0.1],"nice":false},"axis":{"orient":"bottom","values":[0.0001,0.001,0.01,0.1],"tickSize":-5,"labels":false,"title":null}},
"y":{"field":"y","type":"quantitative","scale":{"domain":[0,8],"nice":false},"axis":{"values":[2,4,6,8],"tickSize":-4,"labelPadding":9,"labelOverlap":false,"title":"Mechanical coordination number, Zₘ","titleX":-45,"titleY":81,"titleAngle":270,"titleAlign":"center","titleBaseline":"middle"}},
"color":{"field":"s","type":"nominal","scale":{"domain":[10,20,30,40,50],"range":["#000","#666","#000","#666","#000"]},"legend":null}}},
{"data":{"name":"rs"},"mark":{"type":"point","filled":false,"fill":"#fff","fillOpacity":1,"opacity":1,"size":62,"strokeWidth":1,"stroke":"#000"},
"encoding":{
"x":{"field":"x","type":"quantitative","axis":{"orient":"bottom","values":[0.00006,0.00007,0.00008,0.00009,0.0002,0.0003,0.0004,0.0005,0.0006,0.0007,0.0008,0.0009,0.002,0.003,0.004,0.005,0.006,0.007,0.008,0.009,0.02,0.03,0.04,0.05,0.06,0.07,0.08,0.09],"tickSize":-2.5,"labels":false,"domain":false,"title":null}},
"y":{"field":"y","type":"quantitative"},
"shape":{"field":"s","type":"nominal","scale":{"domain":[10,20,30,40,50],"range":["square","diamond","triangle-left","triangle-up","triangle-down"]},"legend":null}}},
{"data":{"values":[{"x":0.0000733,"y":7.0,"t":"Rubber–sand contacts"}]},"mark":{"type":"text","align":"left","baseline":"middle","fontSize":19,"font":"Liberation Sans","color":"#000"},
"encoding":{"x":{"field":"x","type":"quantitative","axis":null},"y":{"field":"y","type":"quantitative"},"text":{"field":"t"}}}
]
},
{
"width":364,"height":132.5,
"resolve":{"scale":{"shape":"independent","color":"independent"},"axis":{"x":"independent"}},
"layer":[
{"data":{"name":"rr"},"mark":{"type":"line","strokeWidth":1},
"encoding":{
"x":{"field":"x","type":"quantitative","scale":{"type":"log","domain":[0.0000515,0.1],"nice":false},"axis":{"orient":"bottom","values":[0.0001,0.001,0.01,0.1],"tickSize":-5,"labels":true,"labelPadding":10,"labelOverlap":false,"labelFlush":false,"labelExpr":"datum.value < 0.0005 ? '10⁻⁴' : datum.value < 0.005 ? '10⁻³' : datum.value < 0.05 ? '10⁻²' : '10⁻¹'","title":["εd (%)","(a)"],"titleLineHeight":32,"titleY":51.5,"titleBaseline":"alphabetic"}},
"y":{"field":"y","type":"quantitative","scale":{"domain":[0,8],"nice":false},"axis":{"values":[0,2,4,6,8],"tickCount":5,"tickSize":-4,"labelPadding":9,"labelOverlap":false,"labelFlush":false,"title":null}},
"color":{"field":"s","type":"nominal","scale":{"domain":[10,20,30,40,50],"range":["#000","#666","#000","#666","#000"]},"legend":null}}},
{"data":{"name":"rr"},"mark":{"type":"point","filled":false,"fill":"#fff","fillOpacity":1,"opacity":1,"size":62,"strokeWidth":1,"stroke":"#000"},
"encoding":{
"x":{"field":"x","type":"quantitative","axis":{"orient":"bottom","values":[0.00006,0.00007,0.00008,0.00009,0.0002,0.0003,0.0004,0.0005,0.0006,0.0007,0.0008,0.0009,0.002,0.003,0.004,0.005,0.006,0.007,0.008,0.009,0.02,0.03,0.04,0.05,0.06,0.07,0.08,0.09],"tickSize":-2.5,"labels":false,"domain":false,"title":null}},
"y":{"field":"y","type":"quantitative","axis":{"values":[0,2,4,6,8],"tickCount":5,"tickSize":-4,"labelPadding":9,"labelOverlap":false,"labelFlush":false,"title":null}},
"shape":{"field":"s","type":"nominal","scale":{"domain":[10,20,30,40,50],"range":["square","diamond","triangle-left","triangle-up","triangle-down"]},"legend":null}}},
{"data":{"values":[{"x":0.0000733,"y":7.0,"t":"Rubber–rubber contacts"}]},"mark":{"type":"text","align":"left","baseline":"middle","fontSize":19,"font":"Liberation Sans","color":"#000"},
"encoding":{"x":{"field":"x","type":"quantitative","axis":null},"y":{"field":"y","type":"quantitative","axis":{"values":[0,2,4,6,8],"tickCount":5,"tickSize":-4,"labelPadding":9,"labelOverlap":false,"labelFlush":false,"title":null}},"text":{"field":"t"}}}
]
}
]
}
]
},
{
"width":400,"height":439,
"resolve":{"scale":{"shape":"independent","color":"independent"}},
"layer":[
{"data":{"values":[{"c":0,"c2":50,"y":4}]},"mark":{"type":"rule","color":"#444","strokeWidth":1},
"encoding":{
"x":{"field":"c","type":"quantitative","scale":{"domain":[0,50],"nice":false},"axis":{"values":[0,10,20,30,40,50],"tickSize":-4,"labelPadding":9.5,"labelFlush":false,"title":["Rubber content (%)","(b)"],"titleLineHeight":34,"titleY":50.5,"titleBaseline":"alphabetic"}},
"x2":{"field":"c2"},
"y":{"field":"y","type":"quantitative","scale":{"domain":[0,8],"nice":false},"axis":{"values":[0,1,2,3,4,5,6,7,8],"tickSize":-4,"labelPadding":9,"title":"Mechanical coordination number, Zₘ","titleX":-41,"titleY":239.5,"titleAngle":270,"titleAlign":"center","titleBaseline":"middle"}}}},
{"data":{"name":"b"},"mark":{"type":"line","strokeWidth":1},
"encoding":{
"x":{"field":"c","type":"quantitative"},
"y":{"field":"y","type":"quantitative"},
"color":{"field":"t","type":"nominal","scale":{"domain":["o","ss","rs","rr"],"range":["#ff0000","#222","#111","#111"]},"legend":null}}},
{"data":{"name":"b"},"mark":{"type":"point","filled":false,"fill":"#fff","fillOpacity":1,"opacity":1,"size":150,"strokeWidth":1},
"encoding":{
"x":{"field":"c","type":"quantitative"},
"y":{"field":"y","type":"quantitative"},
"shape":{"field":"t","type":"nominal","scale":{"domain":["o","ss","rs","rr"],"range":["diamond","square","triangle-right","triangle-left"]},"legend":null},
"color":{"field":"t","type":"nominal","scale":{"domain":["o","ss","rs","rr"],"range":["#ff0000","#222","#111","#111"]},"legend":null}}},
{"data":{"name":"b"},"transform":[{"filter":"false"}],"mark":{"type":"point","filled":false,"strokeWidth":1},
"encoding":{
"x":{"field":"c","type":"quantitative"},
"y":{"field":"y","type":"quantitative"},
"shape":{"field":"t","type":"nominal","scale":{"domain":["o","ss","rs","rr"],"range":["M-1,0H-0.25M0.25,0H1M-0.25,0L0,-0.25L0.25,0L0,0.25Z","M-1,0H-0.22M0.22,0H1M-0.22,-0.22H0.22V0.22H-0.22Z","M-1,0H-0.2M0.2,0H1M0.2,0L-0.2,-0.23L-0.2,0.23Z","M-1,0H-0.2M0.2,0H1M-0.2,0L0.2,-0.23L0.2,0.23Z"]},
"legend":{"orient":"none","legendX":120,"legendY":-31,"title":null,"strokeColor":"#000","fillColor":"#fff","padding":7,"symbolSize":3249,"clipHeight":27,"rowPadding":0,"labelFontSize":19,"labelOffset":9,"symbolOffset":0,"symbolStrokeWidth":1,"labelExpr":"datum.value == 'o' ? 'Overall Zₘ' : datum.value == 'ss' ? 'Sand–sand contacts' : datum.value == 'rs' ? 'Rubber–sand contacts' : 'Rubber–rubber contacts'"}},
"color":{"field":"t","type":"nominal","scale":{"domain":["o","ss","rs","rr"],"range":["#ff0000","#222","#111","#111"]},
"legend":{"orient":"none","legendX":120,"legendY":-31,"title":null,"strokeColor":"#000","fillColor":"#fff","padding":7,"symbolSize":3249,"clipHeight":27,"rowPadding":0,"labelFontSize":19,"labelOffset":9,"symbolOffset":0,"symbolStrokeWidth":1,"labelExpr":"datum.value == 'o' ? 'Overall Zₘ' : datum.value == 'ss' ? 'Sand–sand contacts' : datum.value == 'rs' ? 'Rubber–sand contacts' : 'Rubber–rubber contacts'"}}}}
]
}
]
}
